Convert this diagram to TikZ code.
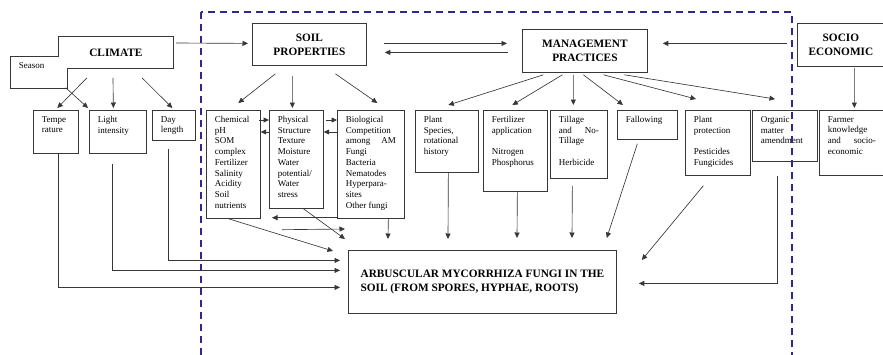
\documentclass[tikz,border=0pt]{standalone}
\usepackage{fontspec}
\setmainfont{Liberation Serif}
\usetikzlibrary{arrows.meta,calc}

\definecolor{framecol}{RGB}{48,40,140}
\definecolor{boxline}{RGB}{55,55,55}

% text block of fixed size, set from the top
\newcommand{\txt}[3]{\parbox[t][#2pt][t]{#1pt}{#3}}

\tikzset{
  head/.style={draw=boxline, fill=white, line width=0.8pt, anchor=north west, inner sep=0pt,
    align=center, font=\fontsize{11.3}{14}\selectfont\bfseries},
  sub/.style={draw=boxline, fill=white, line width=0.7pt, anchor=north west,
    inner xsep=8.5pt, inner ysep=6pt, font=\fontsize{9}{10.7}\selectfont},
  arr/.style={draw=boxline, -{Triangle[length=5.5pt,width=5pt]}, line width=0.65pt},
}

\begin{document}
\begin{tikzpicture}[x=1pt, y=-1pt]
\useasboundingbox (0,0) rectangle (883,354);

% climate and its factors
\node[head, draw=none, minimum width=115pt, minimum height=32pt] (climate) at (58,36) {CLIMATE};
\node[sub, draw=none, fill=none] (season) at (10,56) {\txt{40}{20}{Season}};
\draw[boxline, line width=0.8pt] (season.north west) -- (season.north -| climate.west) -- (climate.north west)
  -- (climate.north east) -- (climate.south east) -- (climate.south -| season.east)
  -- (season.south east) -- (season.south west) -- cycle;

\node[sub] (temp) at (33,110) {\txt{28}{31}{Tempe\\rature}};
\node[sub] (light) at (89,110) {\txt{40}{31}{Light\\intensity}};
\node[sub] (day) at (152,110) {\txt{26}{18}{Day\\length}};

% main headings
\node[head, minimum width=114pt, minimum height=42pt] (soil) at (252,23) {SOIL\\PROPERTIES};
\node[head, minimum width=125pt, minimum height=43pt] (mgmt) at (522,29) {MANAGEMENT\\PRACTICES};
\node[head, minimum width=87pt, minimum height=43pt] (socio) at (797,23) {SOCIO\\ECONOMIC};

% soil properties
\node[sub] (chem) at (206,110) {\txt{37}{96}{Chemical\\pH\\SOM\\complex\\Fertilizer\\Salinity\\Acidity\\Soil\\nutrients}};
\node[sub] (phys) at (269,110) {\txt{37}{86}{Physical\\Structure\\Texture\\Moisture\\Water\\potential/\\Water\\stress}};
\node[sub] (bio) at (337,110) {\txt{50}{96}{Biological\\Competition\\among\hfill AM\\Fungi\\Bacteria\\Nematodes\\Hyperpara-\\sites\\Other fungi}};

% management practices
\node[sub] (plant) at (415,110) {\txt{46}{50}{Plant\\Species,\\rotational\\history}};
\node[sub] (fert) at (483,110) {\txt{47}{69}{Fertilizer\\application\\[10.7pt]Nitrogen\\Phosphorus}};
\node[sub] (till) at (550,110) {\txt{40}{56}{Tillage\\and\hfill No-\\Tillage\\[10.7pt]Herbicide}};
\node[sub] (fallow) at (617,110) {\txt{43}{17}{Fallowing}};
\node[sub] (prot) at (685,110) {\txt{48}{53}{Plant\\protection\\[10.7pt]Pesticides\\Fungicides}};
\node[sub] (org) at (752,110) {\txt{48}{39}{Organic\\matter\\amendment}};
\node[sub] (farmer) at (819,110) {\txt{48}{53}{Farmer\\knowledge\\and\hfill socio-\\economic}};

% fungi in the soil
\node[head, minimum width=268pt, minimum height=63pt, align=left] (amf) at (348,250)
  {ARBUSCULAR MYCORRHIZA FUNGI IN THE\\SOIL (FROM SPORES, HYPHAE, ROOTS)};

% climate arrows
\draw[arr] ($(climate.south west)+(29,9)$) -- ($(temp.north)+(1.5,-2)$);
\draw[arr] ($(season.south east)+(-2,-1)$) -- ($(light.north west)+(-1,-2)$);
\draw[arr] ($(climate.south west)+(55,9)$) -- ($(light.north)+(-4.5,-2)$);
\draw[arr] ($(climate.south west)+(84,9)$) -- ($(day.north)+(-1.5,-2)$);
\draw[arr] ($(climate.north east)+(2,7)$) -- ($(soil.west)+(-4,-1)$);

% between the headings
\draw[arr] ($(soil.east)+(17,-1)$) -- ($(mgmt.west)+(-15,-7.5)$);
\draw[arr] ($(mgmt.west)+(-14,1.5)$) -- ($(soil.east)+(18,8)$);
\draw[arr] ($(socio.west)+(-10,-1.5)$) -- ($(mgmt.east)+(15,-7.5)$);

% soil properties arrows
\draw[arr] ($(soil.south)+(-34,8)$) -- ($(chem.north)+(5,-7)$);
\draw[arr] ($(soil.south)+(-17,10)$) -- ($(phys.north)+(-4,-2)$);
\draw[arr] ($(soil.south)+(26,8)$) -- ($(bio.north)+(6.5,-7)$);
\draw[arr] ($(chem.north east)+(-2,10)$) -- ($(phys.north west)+(0,10)$);
\draw[arr] ($(phys.north west)+(0,22)$) -- ($(chem.north east)+(0,22)$);
\draw[arr] ($(phys.north east)+(2,10)$) -- ($(bio.north west)+(0,10)$);
\draw[arr] ($(bio.north west)+(0,22)$) -- ($(phys.north east)+(0,22)$);

% management arrows
\draw[arr] ($(mgmt.south)+(-41.5,2)$) -- ($(plant.north)+(1.5,-5)$);
\draw[arr] ($(mgmt.south)+(-22.5,2)$) -- ($(fert.north)+(-3,-5)$);
\draw[arr] ($(mgmt.south)+(-11.5,2)$) -- ($(till.north)+(-5.5,-5)$);
\draw[arr] ($(mgmt.south)+(-1.5,2)$) -- ($(fallow.north west)+(6,-5)$);
\draw[arr] ($(mgmt.south)+(18.5,2)$) -- ($(prot.north west)+(11,-11)$);
\draw[arr] ($(mgmt.south)+(39.5,2)$) -- ($(org.north west)+(23,-11)$);
\draw[arr] ($(socio.south)+(13.5,1)$) -- ($(farmer.north)+(2.5,-2)$);

% everything down to the fungi
\draw[arr] ($(bio.south west)+(0,-1)$) -- ($(phys.south west)+(3,9)$);
\draw[arr] ($(phys.south west)+(13,21)$) -- ($(amf.north west)+(-3,-21)$);
\draw[arr] ($(phys.south)+(7,0)$) -- ($(amf.north west)+(-3,-11)$);
\draw[arr] ($(chem.south)+(-5,0)$) -- ($(amf.north west)+(-15,1)$);
\draw[arr] ($(bio.south)+(17.5,0)$) -- ($(amf.north west)+(40,-11)$);
\draw[arr] ($(plant.south)+(1.5,0)$) -- ($(amf.north west)+(100,-11)$);
\draw[arr] ($(fert.south)+(2,0)$) -- ($(amf.north west)+(169,-12)$);
\draw[arr] ($(till.south)+(-6.5,7)$) -- ($(amf.north west)+(224,-12)$);
\draw[arr] ($(fallow.south)+(-10,4)$) -- ($(amf.north east)+(-10,-12)$);
\draw[arr] ($(prot.south)+(-14.5,10)$) -- ($(amf.north east)+(25,10)$);
\draw[arr] ($(org.south)+(-7.5,14)$) |- ($(amf.east)+(22,1.5)$);
\draw[arr] ($(temp.south)+(2.5,0)$) |- ($(amf.west)+(-8,5.5)$);
\draw[arr] ($(light.south)+(-5.5,10)$) |- ($(amf.west)+(-8,-11.5)$);
\draw[arr] ($(day.south)+(-5.5,8)$) |- ($(amf.west)+(-8,-21.5)$);

% dashed frame, its lower side runs off the page
\draw[framecol, line width=1.8pt, dash pattern=on 7pt off 5pt] (201,12) rectangle (792,358);
\end{tikzpicture}
\end{document}
